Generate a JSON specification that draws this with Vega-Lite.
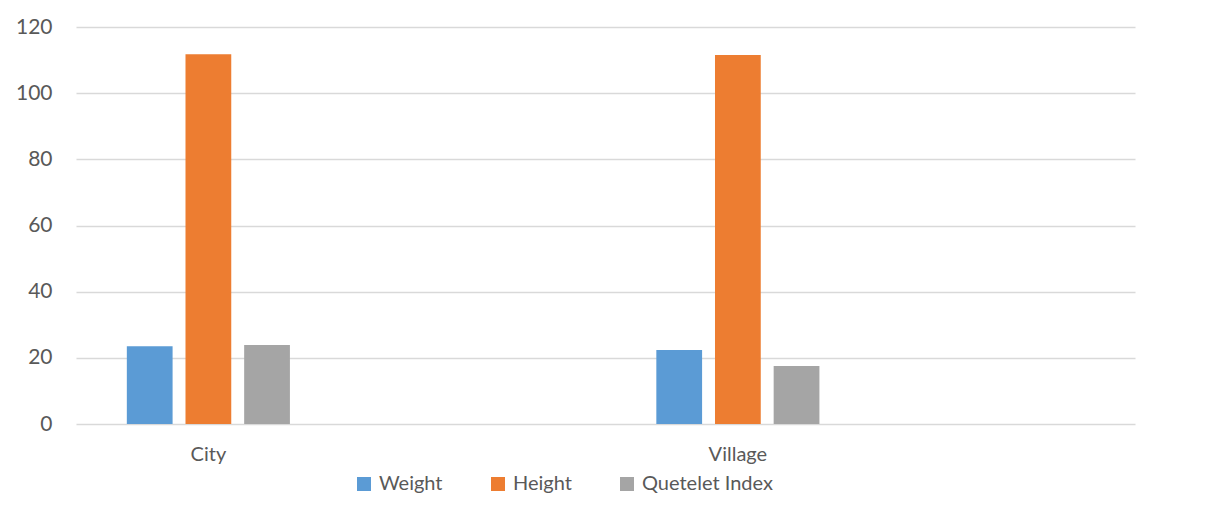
{
  "$schema": "https://vega.github.io/schema/vega-lite/v6.json",
  "autosize": "none",
  "padding": {"left": 76, "top": 27, "right": 87, "bottom": 104},
  "width": 1059,
  "height": 397,
  "background": "white",
  "data": {
    "values": [
      {"place": "City", "measure": "Weight", "value": 23.5},
      {"place": "City", "measure": "Height", "value": 111.8},
      {"place": "City", "measure": "Quetelet Index", "value": 23.9},
      {"place": "Village", "measure": "Weight", "value": 22.4},
      {"place": "Village", "measure": "Height", "value": 111.5},
      {"place": "Village", "measure": "Quetelet Index", "value": 17.5}
    ]
  },
  "mark": {"type": "bar"},
  "encoding": {
    "x": {
      "field": "place",
      "type": "nominal",
      "scale": {"domain": ["City", "blank1", "Village", "blank2"], "paddingInner": 0.384, "paddingOuter": 0.192},
      "axis": {
        "title": null,
        "domain": false,
        "ticks": false,
        "labelAngle": 0,
        "labelExpr": "indexof(datum.value, 'blank') == 0 ? '' : datum.value",
        "labelFont": "Lato",
        "labelFontSize": 20,
        "labelColor": "#595959",
        "labelPadding": 20
      }
    },
    "xOffset": {
      "field": "measure",
      "type": "nominal",
      "sort": ["Weight", "Height", "Quetelet Index"],
      "scale": {"paddingInner": 0.22, "paddingOuter": 0}
    },
    "y": {
      "field": "value",
      "type": "quantitative",
      "scale": {"domain": [0, 120], "nice": false},
      "axis": {
        "title": null,
        "values": [0, 20, 40, 60, 80, 100, 120],
        "domain": false,
        "ticks": false,
        "grid": true,
        "gridColor": "#D9D9D9",
        "gridWidth": 1.3,
        "labelFont": "Lato",
        "labelFontSize": 21,
        "labelColor": "#595959",
        "labelPadding": 24
      }
    },
    "color": {
      "field": "measure",
      "type": "nominal",
      "sort": ["Weight", "Height", "Quetelet Index"],
      "scale": {"domain": ["Weight", "Height", "Quetelet Index"], "range": ["#5B9BD5", "#ED7D31", "#A5A5A5"]},
      "legend": {
        "title": null,
        "orient": "none",
        "direction": "horizontal",
        "legendX": 278,
        "legendY": 447,
        "symbolType": "square",
        "symbolSize": 196,
        "symbolStrokeWidth": 0,
        "labelFont": "Lato",
        "labelFontSize": 20,
        "labelColor": "#595959",
        "labelOffset": 5,
        "columnPadding": 45
      }
    }
  },
  "config": {
    "view": {"stroke": null}
  }
}
